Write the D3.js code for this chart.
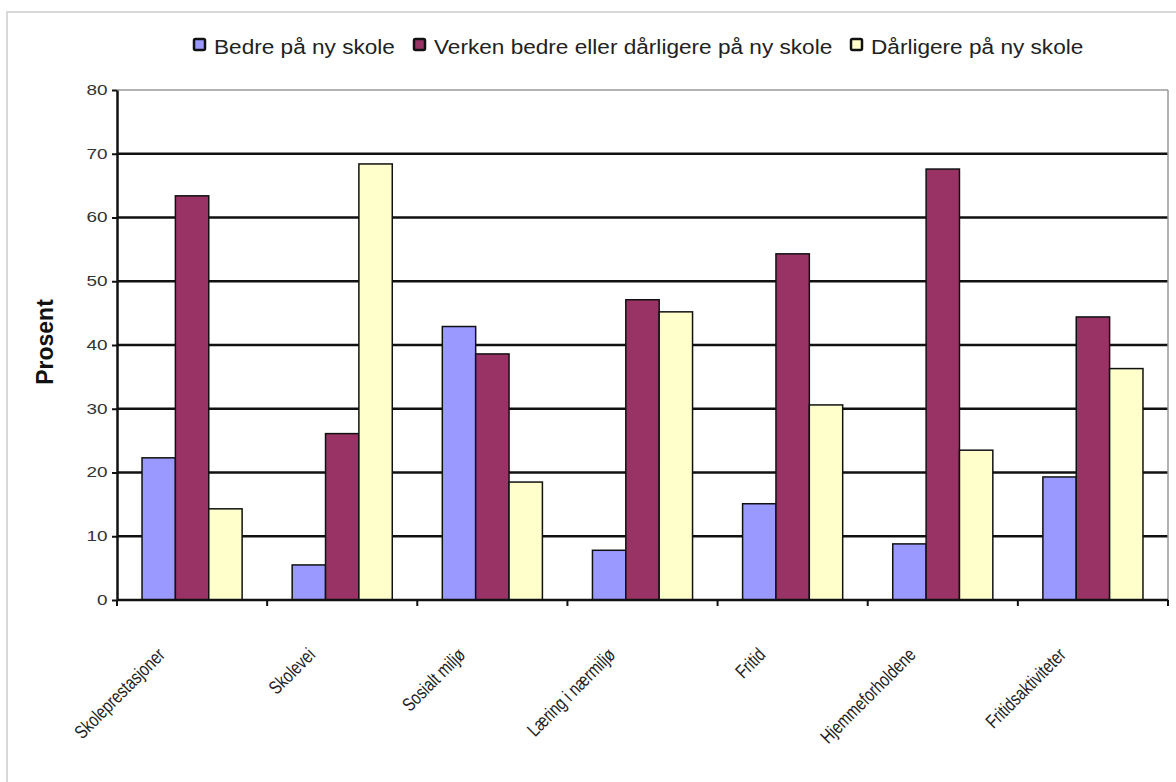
<!DOCTYPE html>
<html>
<head>
<meta charset="utf-8">
<script src="https://cdn.jsdelivr.net/npm/d3@7"></script>
<style>
  html, body { margin: 0; padding: 0; background: #fff; }
  svg { display: block; font-family: "Liberation Sans", Arial, sans-serif; }
</style>
</head>
<body>
<svg id="chart" width="1176" height="782"></svg>
<script>
const categories = ["Skoleprestasjoner", "Skolevei", "Sosialt miljø", "Læring i nærmiljø", "Fritid", "Hjemmeforholdene", "Fritidsaktiviteter"];
const seriesNames = ["Bedre på ny skole", "Verken bedre eller dårligere på ny skole", "Dårligere på ny skole"];
const bedre = [22.3, 5.5, 42.9, 7.8, 15.1, 8.8, 19.3];
const verken = [63.4, 26.1, 38.6, 47.1, 54.3, 67.6, 44.4];
const darligere = [14.3, 68.4, 18.5, 45.2, 30.6, 23.5, 36.3];
const yTicks = [0, 10, 20, 30, 40, 50, 60, 70, 80];
const colors = ["#9999FF", "#993366", "#FFFFCC"];

const seriesValues = [bedre, verken, darligere];
const data = categories.map((c, i) => ({ cat: c, vals: seriesValues.map(s => s[i]) }));

const svg = d3.select("#chart");
const W = 1176, H = 782;
const m = { left: 117, right: 1168, top: 90, bottom: 600 };

// outer frame
svg.append("rect").attr("x", 7).attr("y", 12).attr("width", W).attr("height", H)
  .attr("fill", "#fff").attr("stroke", "#d9d9d9").attr("stroke-width", 2);

const x0 = d3.scaleBand().domain(categories).range([m.left, m.right]).padding(0);
const x1 = d3.scaleBand().domain(d3.range(seriesNames.length)).range([0, x0.bandwidth()])
  .paddingInner(0).paddingOuter(0.75);
const y = d3.scaleLinear().domain([0, 80]).range([m.bottom, m.top]);

// gridlines
svg.append("g").selectAll("line").data(yTicks.filter(t => t > 0)).join("line")
  .attr("x1", m.left).attr("x2", m.right)
  .attr("y1", d => y(d)).attr("y2", d => y(d))
  .attr("stroke", d => d === 80 ? "#999" : "#111")
  .attr("stroke-width", d => d === 80 ? 1.5 : 2.5);
// right border
svg.append("line").attr("x1", m.right).attr("x2", m.right).attr("y1", m.top).attr("y2", m.bottom)
  .attr("stroke", "#999").attr("stroke-width", 1.5);

// bars
const groups = svg.append("g").selectAll("g").data(data).join("g")
  .attr("transform", d => `translate(${x0(d.cat)},0)`);
groups.selectAll("rect").data(d => d.vals.map((v, i) => ({ v, i }))).join("rect")
  .attr("x", d => x1(d.i)).attr("width", x1.bandwidth())
  .attr("y", d => y(d.v)).attr("height", d => y(0) - y(d.v))
  .attr("fill", d => colors[d.i]).attr("stroke", "#111").attr("stroke-width", 1.5);

// y axis
const yAxis = svg.append("g").attr("transform", `translate(${m.left},0)`)
  .call(d3.axisLeft(y).tickValues(yTicks).tickSize(5).tickPadding(2).tickSizeOuter(0));
yAxis.select(".domain").attr("stroke", "#111").attr("stroke-width", 2.5);
yAxis.selectAll(".tick line").attr("stroke", "#111").attr("stroke-width", 2);
yAxis.selectAll(".tick text").attr("font-size", 14).attr("fill", "#333")
  .attr("font-family", "Liberation Sans, Arial, sans-serif")
  .attr("transform", "scale(1.35,1)");

// x axis
const xAxisG = svg.append("g").attr("transform", `translate(0,${m.bottom})`);
xAxisG.append("line").attr("x1", m.left).attr("x2", m.right).attr("y1", 0).attr("y2", 0)
  .attr("stroke", "#111").attr("stroke-width", 2.5);
const boundaries = categories.map(c => x0(c)).concat([x0(categories[categories.length - 1]) + x0.bandwidth()]);
xAxisG.selectAll("line.tk").data(boundaries).join("line").attr("class", "tk")
  .attr("x1", d => d).attr("x2", d => d).attr("y1", 0).attr("y2", 6)
  .attr("stroke", "#111").attr("stroke-width", 2);

// x labels (condensed, rotated)
svg.append("g").selectAll("text").data(categories).join("text")
  .attr("transform", d => `translate(${x0(d) + x0.bandwidth() / 2 - 26},656) rotate(-45)`)
  .attr("text-anchor", "end")
  .attr("font-size", 19).attr("fill", "#222")
  .text(d => d)
  .each(function () {
    const L = this.getComputedTextLength();
    d3.select(this).attr("textLength", L * 0.78).attr("lengthAdjust", "spacingAndGlyphs");
  });

// y title
svg.append("text").attr("transform", "translate(53,342) rotate(-90)")
  .attr("text-anchor", "middle").attr("font-weight", "bold").attr("font-size", 23)
  .attr("fill", "#111").text("Prosent");

// legend
const legendX = [193, 413, 850];
const lg = svg.append("g").selectAll("g").data(seriesNames).join("g")
  .attr("transform", (d, i) => `translate(${legendX[i]},0)`);
lg.append("rect").attr("x", 1).attr("y", 39).attr("width", 11).attr("height", 11)
  .attr("rx", 1.5)
  .attr("fill", (d, i) => colors[i]).attr("stroke", "#111").attr("stroke-width", 2.5);
lg.append("text").attr("x", 21).attr("y", 54).attr("font-size", 20).attr("fill", "#222")
  .text(d => d)
  .each(function () {
    const L = this.getComputedTextLength();
    d3.select(this).attr("textLength", L * 1.13).attr("lengthAdjust", "spacingAndGlyphs");
  });
</script>
</body>
</html>
